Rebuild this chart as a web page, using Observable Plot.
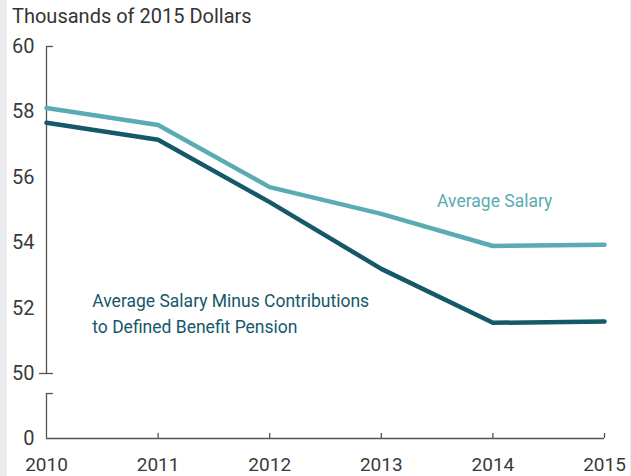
<!DOCTYPE html>
<html>
<head>
<meta charset="utf-8">
<script src="https://cdn.jsdelivr.net/npm/d3@7"></script>
<script src="https://cdn.jsdelivr.net/npm/@observablehq/plot@0.6"></script>
<style>
  html, body { margin: 0; padding: 0; background: #fff; }
  #wrap { position: relative; width: 631px; height: 476px; background: #fff; overflow: hidden; }
  #strip { position: absolute; left: 0; top: 0; width: 7px; height: 476px; background: #ebebed; }
  #strip2 { position: absolute; right: 0; top: 0; width: 1px; height: 476px; background: #ebebed; }
  #title { position: relative; height: 32px; box-sizing: border-box; padding: 4px 0 0 12px;
           font-family: Roboto, "Noto Sans", sans-serif; font-size: 20px; line-height: 24px; color: #333; }
  #chart { position: relative; }
</style>
</head>
<body>
<div id="wrap">
  <div id="strip"></div>
  <div id="strip2"></div>
  <div id="title">Thousands of 2015 Dollars</div>
  <div id="chart"></div>
</div>
<script>
// ---- data ----
const years = [2010, 2011, 2012, 2013, 2014, 2015];
const averageSalary = [58.12, 57.6, 55.7, 54.88, 53.9, 53.94];
const salaryMinusContributions = [57.67, 57.15, 55.24, 53.2, 51.55, 51.59];
const seriesNames = ["Average Salary", "Average Salary Minus Contributions\nto Defined Benefit Pension"];
const yTickValues = [0, 50, 52, 54, 56, 58, 60];

// ---- styles ----
const lightTeal = "#5aabb2";
const darkTeal = "#15586a";
const axisColor = "#555";
const textColor = "#3a3a3a";
const font = "Roboto, 'Noto Sans', sans-serif";

const width = 631, height = 444;
const marginLeft = 46, marginRight = 27, marginTop = 14, marginBottom = 38;
const innerW = width - marginLeft - marginRight;

// broken y axis: values below 50 are compressed
const breakAt = 50;
const compress = 0.03976;
const yTransform = v => v >= breakAt ? v : breakAt - (breakAt - v) * compress;
const breakValue = 34.6;   // end of lower axis stub
const xTickValue = 3.85;   // short upward x ticks

const table = years.flatMap((yr, i) => [
  {year: yr, value: averageSalary[i], series: seriesNames[0]},
  {year: yr, value: salaryMinusContributions[i], series: seriesNames[1]}
]);

const chart = Plot.plot({
  width, height, marginLeft, marginRight, marginTop, marginBottom,
  style: {background: "transparent", fontFamily: font, color: textColor},
  x: {domain: [years[0], years[years.length - 1]], axis: null},
  y: {transform: yTransform, domain: [yTransform(0), 60], axis: null},
  marks: [
    // y axis upper segment and lower stub
    Plot.ruleX([years[0]], {y1: 50, y2: 60, stroke: axisColor, strokeWidth: 1.3}),
    Plot.ruleX([years[0]], {y1: 0, y2: breakValue, stroke: axisColor, strokeWidth: 1.3}),
    // top cap, 50 crossing tick, break cap
    Plot.ruleY([60], {insetRight: innerW - 7, stroke: axisColor, strokeWidth: 1.3}),
    Plot.ruleY([50], {insetLeft: -7, insetRight: innerW - 7, stroke: axisColor, strokeWidth: 1.3}),
    Plot.ruleY([breakValue], {insetRight: innerW - 7, stroke: axisColor, strokeWidth: 1.3}),
    // x axis
    Plot.ruleY([0], {stroke: axisColor, strokeWidth: 1.3}),
    Plot.ruleX(years.slice(1), {y1: 0, y2: xTickValue, stroke: axisColor, strokeWidth: 1.3}),
    // tick labels
    Plot.text(yTickValues, {x: years[0], y: d => d, text: d => String(d), textAnchor: "end", dx: -12, fontSize: 20, fill: textColor}),
    Plot.text(years, {x: d => d, y: 0, text: d => String(d), dy: 26, fontSize: 19, fill: textColor}),
    // lines
    Plot.line(table.filter(d => d.series === seriesNames[0]), {x: "year", y: "value", stroke: lightTeal, strokeWidth: 4.5}),
    Plot.line(table.filter(d => d.series === seriesNames[1]), {x: "year", y: "value", stroke: darkTeal, strokeWidth: 4.5}),
    // annotations
    Plot.text([seriesNames[0]], {x: 2013.5, y: 55.27, text: d => d, textAnchor: "start", fontSize: 17.5, fill: lightTeal}),
    Plot.text([seriesNames[1]], {x: 2010.41, y: 51.9, text: d => d, textAnchor: "start", fontSize: 17.5, lineHeight: 1.5, fill: darkTeal})
  ]
});
document.getElementById("chart").appendChild(chart);
</script>
</body>
</html>
